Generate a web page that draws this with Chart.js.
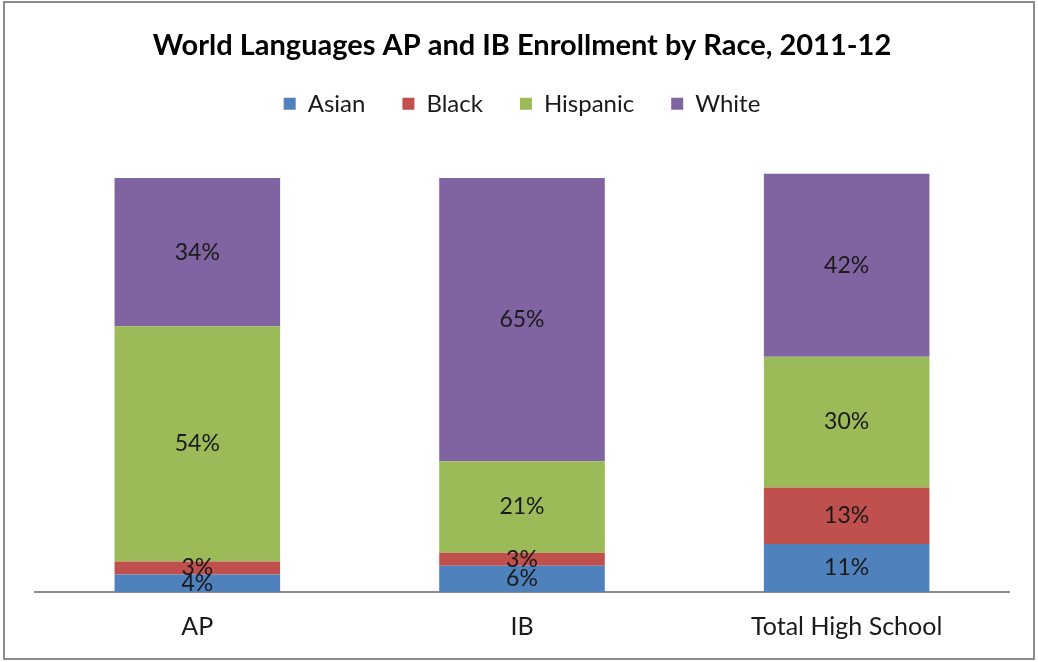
<!DOCTYPE html>
<html>
<head>
<meta charset="utf-8">
<script src="https://cdn.jsdelivr.net/npm/chart.js@4.4.0/dist/chart.umd.min.js"></script>
<style>
  html, body { margin: 0; padding: 0; background: #fff; }
  #wrap { width: 1038px; height: 662px; position: relative; }
</style>
</head>
<body>
<div id="wrap"><canvas id="enrollChart" width="1038" height="662"></canvas></div>
<script>
const categories = ["AP", "IB", "Total High School"];
const asian = [4, 6, 11];
const black = [3, 3, 13];
const hispanic = [54, 21, 30];
const white = [34, 65, 42];

const ctx = document.getElementById('enrollChart').getContext('2d');

// Gray frame around the whole chart
const framePlugin = {
  id: 'frame',
  beforeDraw(chart) {
    const c = chart.ctx;
    c.save();
    c.fillStyle = '#fff';
    c.fillRect(0, 0, chart.width, chart.height);
    c.strokeStyle = '#8c8c8c';
    c.lineWidth = 2;
    c.strokeRect(4, 2, 1030, 657);
    c.restore();
  }
};

// Percent labels centred in each bar segment
const segmentLabels = {
  id: 'segmentLabels',
  afterDatasetsDraw(chart) {
    const c = chart.ctx;
    c.save();
    c.font = '23px Lato';
    c.fillStyle = '#1a1a1a';
    c.textAlign = 'center';
    c.textBaseline = 'middle';
    chart.data.datasets.forEach((ds, i) => {
      const meta = chart.getDatasetMeta(i);
      meta.data.forEach((bar, j) => {
        const y = (bar.y + bar.base) / 2;
        c.fillText(ds.data[j] + '%', bar.x, y);
      });
    });
    c.restore();
  }
};

const chart = new Chart(ctx, {
  type: 'bar',
  data: {
    labels: categories,
    datasets: [
      { label: 'Asian', data: asian, backgroundColor: '#4F81BD' },
      { label: 'Black', data: black, backgroundColor: '#C0504D' },
      { label: 'Hispanic', data: hispanic, backgroundColor: '#9BBB59' },
      { label: 'White', data: white, backgroundColor: '#8064A2' }
    ]
  },
  options: {
    responsive: false,
    animation: false,
    layout: { padding: { left: 35, right: 29, top: 0, bottom: 0 } },
    datasets: { bar: { barPercentage: 0.51, categoryPercentage: 1 } },
    plugins: {
      title: {
        display: true,
        text: 'World Languages AP and IB Enrollment by Race, 2011-12',
        color: '#000',
        font: { family: 'Lato', size: 29, weight: 'bold' },
        padding: { top: 28, bottom: -8 }
      },
      legend: {
        position: 'top',
        labels: {
          color: '#1a1a1a',
          font: { family: 'Lato', size: 24 },
          boxWidth: 12,
          boxHeight: 12,
          padding: 37
        }
      },
      tooltip: { enabled: false }
    },
    scales: {
      x: {
        stacked: true,
        grid: { display: false, drawTicks: false },
        border: { display: true, color: '#8c8c8c', width: 2 },
        ticks: { color: '#1a1a1a', font: { family: 'Lato', size: 25 }, padding: 20 }
      },
      y: {
        stacked: true,
        display: false,
        min: 0,
        max: 107
      }
    }
  },
  plugins: [framePlugin, segmentLabels]
});
</script>
</body>
</html>
